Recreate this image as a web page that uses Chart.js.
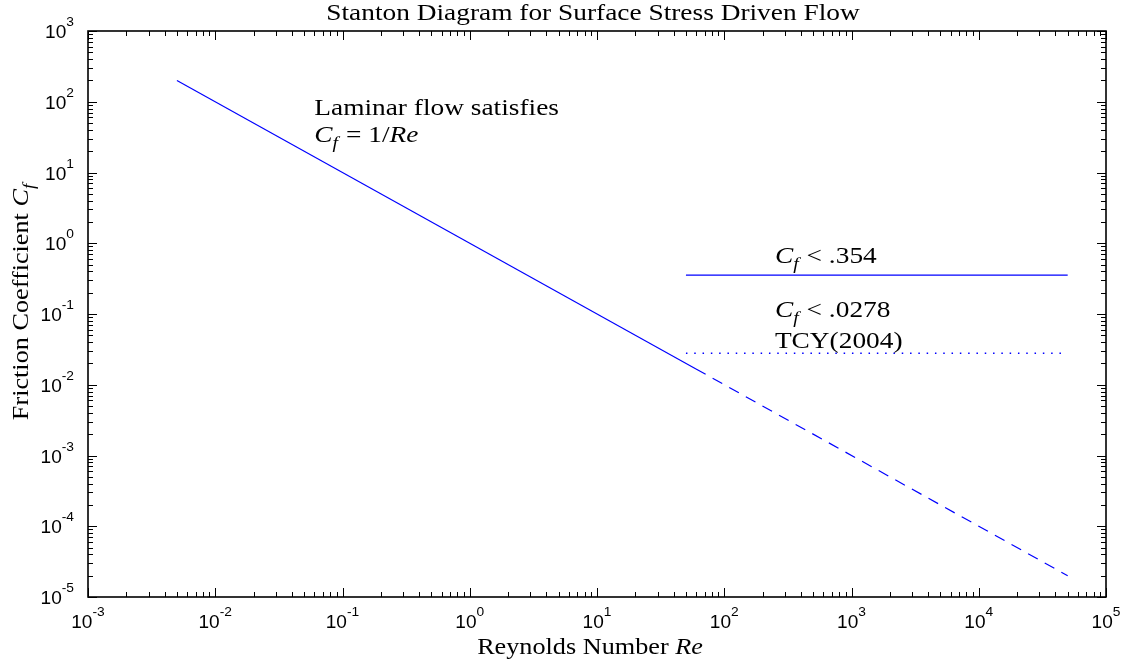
<!DOCTYPE html>
<html>
<head>
<meta charset="utf-8">
<script src="https://cdn.jsdelivr.net/npm/chart.js@4"></script>
<style>
  body { margin: 0; background: #fff; }
  canvas { display: block; }
</style>
</head>
<body>
<canvas id="grafica" width="1133" height="667"></canvas>
<script>
// datos
const reLaminar = [0.005, 60];
const cfLaminar = [200, 0.0167];
const reExtrap = [60, 50000];
const cfExtrap = [0.0167, 0.00002];
const reLimite = [50, 50000];
const cfLimite = [0.354, 0.354];
const cfTCY = [0.0278, 0.0278];

// decadas de los ejes
const expX = [-3, -2, -1, 0, 1, 2, 3, 4, 5];
const expY = [-5, -4, -3, -2, -1, 0, 1, 2, 3];

// textos dentro del grafico (posicion en unidades de datos)
const notasRe = [0.06, 0.06, 250, 250, 250];
const notasCf = [65, 27, 0.526, 0.0908, 0.0331];
const notasTexto = [
    [["Laminar flow satisfies"]],
    [["C", "i"], ["f", "s"], [" = 1/"], ["Re", "i"]],
    [["C", "i"], ["f", "s"], [" < .354"]],
    [["C", "i"], ["f", "s"], [" < .0278"]],
    [["TCY(2004)"]]
];

const titulo = [["Stanton Diagram for Surface Stress Driven Flow"]];
const tituloX = [["Reynolds Number "], ["Re", "i"]];
const tituloY = [["Friction Coefficient "], ["C", "i"], ["f", "s"]];

const serif = '"Liberation Serif", "Times New Roman", serif';
const estirar = 1.14;

function pares(xs, ys) {
    return xs.map((x, i) => ({ x: x, y: ys[i] }));
}

// dibuja un texto con partes en cursiva / subindice
function textoRico(ctx, partes, x, y, size, align) {
    const fuente = (p) => {
        const t = p[1] === "s" ? size * 0.72 : size;
        return (p[1] ? "italic " : "") + t + "px " + serif;
    };
    let ancho = 0;
    partes.forEach(p => { ctx.font = fuente(p); ancho += ctx.measureText(p[0]).width; });
    ctx.save();
    ctx.translate(align === "center" ? x - ancho * estirar / 2 : x, y);
    ctx.scale(estirar, 1);
    ctx.textAlign = "left";
    ctx.textBaseline = "alphabetic";
    let cx = 0;
    partes.forEach(p => {
        ctx.font = fuente(p);
        ctx.fillText(p[0], cx, p[1] === "s" ? size * 0.25 : 0);
        cx += ctx.measureText(p[0]).width + (p[1] === "s" ? 1 : 0);
    });
    ctx.restore();
}

const marco = {
    id: "marco",
    afterDraw(chart) {
        const ctx = chart.ctx;
        const a = chart.chartArea;
        const sx = chart.scales.x, sy = chart.scales.y;
        ctx.save();
        ctx.fillStyle = "#000";
        ctx.strokeStyle = "#000";

        // marcas hacia dentro en los cuatro lados
        ctx.lineWidth = 1;
        ctx.beginPath();
        expX.forEach((e, i) => {
            for (let m = 1; m <= 9; m++) {
                if (m > 1 && i === expX.length - 1) break;
                const px = Math.round(sx.getPixelForValue(m * Math.pow(10, e))) + 0.5;
                const l = m === 1 ? 9 : 5;
                ctx.moveTo(px, a.bottom); ctx.lineTo(px, a.bottom - l);
                ctx.moveTo(px, a.top); ctx.lineTo(px, a.top + l);
            }
        });
        expY.forEach((e, i) => {
            for (let m = 1; m <= 9; m++) {
                if (m > 1 && i === expY.length - 1) break;
                const py = Math.round(sy.getPixelForValue(m * Math.pow(10, e))) + 0.5;
                const l = m === 1 ? 9 : 5;
                ctx.moveTo(a.left, py); ctx.lineTo(a.left + l, py);
                ctx.moveTo(a.right, py); ctx.lineTo(a.right - l, py);
            }
        });
        ctx.stroke();

        ctx.lineWidth = 1.6;
        ctx.strokeRect(a.left, a.top, a.right - a.left, a.bottom - a.top);

        // etiquetas 10^n
        const sans = '"Liberation Sans", Arial, sans-serif';
        const k = 1.06;
        const etiqueta = (e, x, y, align) => {
            ctx.font = "18px " + sans;
            const w10 = ctx.measureText("10").width * k;
            ctx.font = "13px " + sans;
            const sup = e < 0 ? "-" + Math.abs(e) : String(e);
            const wSup = ctx.measureText(sup).width * k;
            const x0 = align === "center" ? x - (w10 + wSup) / 2 : x - w10 - wSup;
            ctx.save();
            ctx.translate(x0, y);
            ctx.scale(k, 1);
            ctx.textAlign = "left";
            ctx.textBaseline = "alphabetic";
            ctx.font = "18px " + sans;
            ctx.fillText("10", 0, 0);
            ctx.font = "13px " + sans;
            ctx.fillText(sup, w10 / k, -12);
            ctx.restore();
        };
        expX.forEach(e => etiqueta(e, sx.getPixelForValue(Math.pow(10, e)), a.bottom + 31, "center"));
        expY.forEach(e => etiqueta(e, a.left - 14, sy.getPixelForValue(Math.pow(10, e)) + 7, "right"));

        // titulos
        textoRico(ctx, titulo, (a.left + a.right) / 2 - 4, 20, 24, "center");
        textoRico(ctx, tituloX, (a.left + a.right) / 2 - 7, 654, 23, "center");
        ctx.save();
        ctx.translate(28, 302);
        ctx.rotate(-Math.PI / 2);
        textoRico(ctx, tituloY, 0, 0, 23, "center");
        ctx.restore();

        // notas
        notasTexto.forEach((t, i) => {
            textoRico(ctx, t, sx.getPixelForValue(notasRe[i]), sy.getPixelForValue(notasCf[i]), 24, "left");
        });
        ctx.restore();
    }
};

const azul = "#0000ff";
new Chart(document.getElementById("grafica").getContext("2d"), {
    type: "line",
    data: {
        datasets: [
            { data: pares(reLaminar, cfLaminar), borderColor: azul, borderWidth: 1.2, pointRadius: 0 },
            { data: pares(reExtrap, cfExtrap), borderColor: azul, borderWidth: 1.2, pointRadius: 0, borderDash: [11, 8] },
            { data: pares(reLimite, cfLimite), borderColor: azul, borderWidth: 1.2, pointRadius: 0 },
            { data: pares(reLimite, cfTCY), borderColor: azul, borderWidth: 1.5, pointRadius: 0, borderDash: [1.5, 6.8] }
        ]
    },
    options: {
        responsive: false,
        animation: false,
        layout: { padding: { left: 88, right: 27, top: 31, bottom: 70 } },
        plugins: { legend: { display: false }, tooltip: { enabled: false } },
        scales: {
            x: { type: "logarithmic", min: 1e-3, max: 1e5, display: false },
            y: { type: "logarithmic", min: 1e-5, max: 1e3, display: false }
        }
    },
    plugins: [marco]
});
</script>
</body>
</html>
